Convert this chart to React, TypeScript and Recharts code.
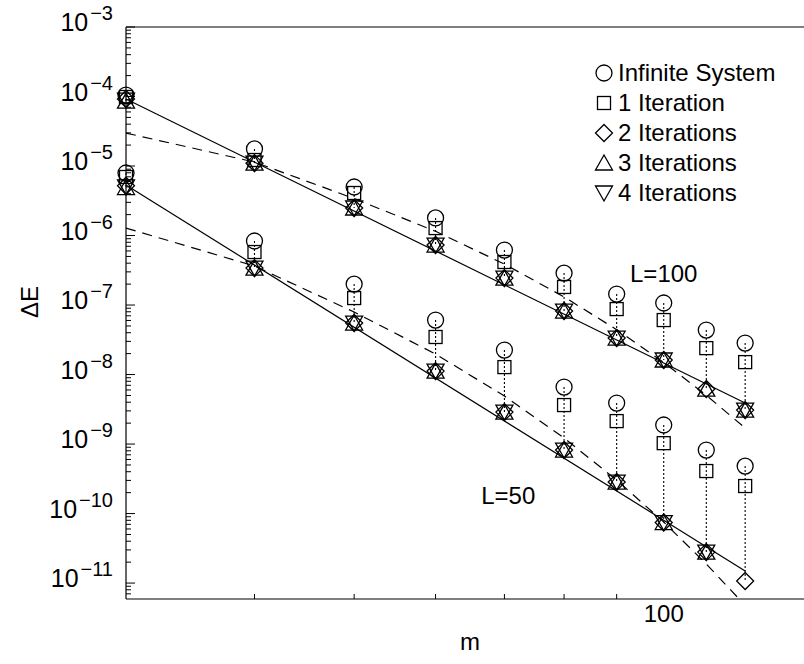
import React from 'react';
import { ComposedChart, Scatter, XAxis, YAxis, ReferenceLine, ReferenceDot, Legend } from 'recharts';

const mValues = [30, 40, 50, 60, 70, 80, 90, 100, 110, 120];

// L = 100
const inf100 = [1.05e-4, 1.76e-5, 4.99e-6, 1.79e-6, 6.18e-7, 2.88e-7, 1.44e-7, 1.07e-7, 4.37e-8, 2.84e-8];
const it1_100 = [9.84e-5, 1.22e-5, 4.09e-6, 1.28e-6, 4.16e-7, 1.82e-7, 8.75e-8, 6.08e-8, 2.4e-8, 1.51e-8];
const it2_100 = [9.2e-5, 1.1e-5, 2.49e-6, 7.3e-7, 2.44e-7, 8.2e-8, 3.35e-8, 1.62e-8, 6.18e-9, 3.08e-9];
const it3_100 = [8.6e-5, 1.1e-5, 2.49e-6, 7.3e-7, 2.44e-7, 8.2e-8, 3.35e-8, 1.62e-8, 6.18e-9, 3.08e-9];
const it4_100 = [8.9e-5, 1.1e-5, 2.49e-6, 7.3e-7, 2.44e-7, 8.2e-8, 3.35e-8, 1.62e-8, null, 3.08e-9];

// L = 50
const inf50 = [7.93e-6, 8.34e-7, 2.0e-7, 6.08e-8, 2.25e-8, 6.61e-9, 3.89e-9, 1.88e-9, 8.2e-10, 4.82e-10];
const it1_50 = [6.95e-6, 5.79e-7, 1.26e-7, 3.47e-8, 1.28e-8, 3.64e-9, 2.14e-9, 1.03e-9, 4.09e-10, 2.49e-10];
const it2_50 = [5.2e-6, 3.4e-7, 5.51e-8, 1.12e-8, 2.88e-9, 8.2e-10, 2.84e-10, 7.43e-11, 2.79e-11, 1.07e-11];
const it3_50 = [4.9e-6, 3.4e-7, 5.51e-8, 1.12e-8, 2.88e-9, 8.2e-10, 2.84e-10, 7.43e-11, 2.79e-11, null];
const it4_50 = [5.0e-6, 3.4e-7, 5.51e-8, 1.12e-8, 2.88e-9, 8.2e-10, 2.84e-10, 7.43e-11, 2.79e-11, null];

// fit lines
const powFitM = [30, 120];
const powFit100 = [9.2e-5, 3.89e-9];
const powFit50 = [5.33e-6, 1.49e-11];
const expFit100 = [2.98e-5, 1.14e-5, 3.4e-6, 1.15e-6, 3.88e-7, 1.31e-7, 4.42e-8, 1.49e-8, 5.04e-9, 1.7e-9];
const expFit50M = [30, 40, 50, 60, 70, 80, 90, 100, 110, 118.4];
const expFit50 = [1.28e-6, 3.64e-7, 7.93e-8, 1.97e-8, 4.91e-9, 1.22e-9, 3.03e-10, 7.55e-11, 1.88e-11, 5.9e-12];

const xDomain = [30, 140];
const yDomain = [5.9e-12, 1e-3];
const xTicks = [40, 50, 60, 70, 80, 90, 100];
const xLabeled = [100];
const yMajor = [1e-11, 1e-10, 1e-9, 1e-8, 1e-7, 1e-6, 1e-5, 1e-4, 1e-3];
const yMinorMult = [2, 3, 4, 5, 6, 7, 8, 9];
const yBelowMinor = [7e-12, 8e-12, 9e-12];

const FONT = "'Liberation Sans', Arial, Helvetica, sans-serif";

const yTicks: number[] = [...yBelowMinor];
yMajor.forEach((v, i) => {
  yTicks.push(v);
  if (i < yMajor.length - 1) yMinorMult.forEach((k) => yTicks.push(k * v));
});

type ShapeKind = 'circle' | 'square' | 'diamond' | 'triUp' | 'triDown';

const drawShape = (kind: ShapeKind, cx: number, cy: number) => {
  const common = { fill: 'none', stroke: '#000', strokeWidth: 1.3 };
  switch (kind) {
    case 'circle':
      return <circle cx={cx} cy={cy} r={8} {...common} />;
    case 'square':
      return <rect x={cx - 6.5} y={cy - 6.5} width={13} height={13} {...common} />;
    case 'diamond':
      return <polygon points={`${cx},${cy - 8.5} ${cx + 8.5},${cy} ${cx},${cy + 8.5} ${cx - 8.5},${cy}`} {...common} />;
    case 'triUp':
      return <polygon points={`${cx},${cy - 8} ${cx + 8.5},${cy + 7} ${cx - 8.5},${cy + 7}`} {...common} />;
    case 'triDown':
    default:
      return <polygon points={`${cx},${cy + 8} ${cx + 8.5},${cy - 7} ${cx - 8.5},${cy - 7}`} {...common} />;
  }
};

const series: { name: string; kind: ShapeKind; a: (number | null)[]; b: (number | null)[] }[] = [
  { name: 'Infinite System', kind: 'circle', a: inf100, b: inf50 },
  { name: '1 Iteration', kind: 'square', a: it1_100, b: it1_50 },
  { name: '2 Iterations', kind: 'diamond', a: it2_100, b: it2_50 },
  { name: '3 Iterations', kind: 'triUp', a: it3_100, b: it3_50 },
  { name: '4 Iterations', kind: 'triDown', a: it4_100, b: it4_50 },
];
const seriesOrder = series.map((s) => s.name);

const toPoints = (ms: number[], vals: (number | null)[]) =>
  ms.map((m, i) => ({ m, v: vals[i] })).filter((p) => p.v !== null) as { m: number; v: number }[];

const kindByName: Record<string, ShapeKind> = {};
series.forEach((s) => (kindByName[s.name] = s.kind));

// dotted connectors: from the infinite-system point down to the lowest point at each m
const connectors: { m: number; top: number; bottom: number }[] = [];
(['a', 'b'] as const).forEach((g) => {
  mValues.forEach((m, i) => {
    const vals = series.map((s) => s[g][i]).filter((v) => v !== null) as number[];
    connectors.push({ m, top: series[0][g][i] as number, bottom: Math.min(...vals) });
  });
});

const YTick = (props: any) => {
  const { x, y, payload } = props;
  const v = payload.value as number;
  const e = Math.round(Math.log10(v));
  const major = Math.abs(v / Math.pow(10, e) - 1) < 1e-6;
  return (
    <g>
      <line x1={x} x2={x + (major ? 9 : 5)} y1={y} y2={y} stroke="#000" strokeWidth={1} />
      {major && (
        <text x={x - 13} y={y + 4} textAnchor="end" fontFamily={FONT} fontSize={25} fill="#000">
          <tspan>10</tspan>
          <tspan dx={2} dy={-11} fontSize={20}>{`\u2212${-e}`}</tspan>
        </text>
      )}
    </g>
  );
};

const XTickBottom = (props: any) => {
  const { x, y, payload } = props;
  const v = payload.value as number;
  const labeled = xLabeled.includes(v);
  return (
    <g>
      {!labeled && <line x1={x} x2={x} y1={y} y2={y - 5} stroke="#000" strokeWidth={1} />}
      {labeled && (
        <text x={x} y={y + 23} textAnchor="middle" fontFamily={FONT} fontSize={24} fill="#000">
          {v}
        </text>
      )}
    </g>
  );
};

const XTickTop = (props: any) => {
  const { x, y, payload } = props;
  const v = payload.value as number;
  if (xLabeled.includes(v)) return <g />;
  return <line x1={x} x2={x} y1={y} y2={y + 5} stroke="#000" strokeWidth={1} />;
};

const LegendContent = (props: any) => {
  const payload = (props.payload || [])
    .filter((p: any) => kindByName[p.value])
    .sort((p: any, q: any) => seriesOrder.indexOf(p.value) - seriesOrder.indexOf(q.value));
  return (
    <div style={{ fontFamily: FONT, fontSize: 24, color: '#000' }}>
      {payload.map((p: any) => (
        <div key={p.value} style={{ height: 30, display: 'flex', alignItems: 'center', whiteSpace: 'nowrap' }}>
          <svg width={20} height={20} style={{ display: 'block' }}>
            {drawShape(kindByName[p.value], 10, 10)}
          </svg>
          <span style={{ marginLeft: 4, lineHeight: '30px' }}>{p.value}</span>
        </div>
      ))}
    </div>
  );
};

const YLabel = () => (
  <text x={38} y={302} transform="rotate(-90 38 302)" textAnchor="middle" fontFamily={FONT} fontSize={24} fill="#000">
    {'\u0394E'}
  </text>
);

const noShape = () => <g />;

export default function App() {
  return (
    <div style={{ position: 'absolute', left: 0, top: 0, width: 804, height: 664, overflow: 'hidden', background: '#fff' }}>
      <ComposedChart width={830} height={664} margin={{ top: 0, right: 16, bottom: 0, left: 0 }}>
        <XAxis
          xAxisId={0}
          type="number"
          dataKey="m"
          scale="log"
          domain={xDomain}
          ticks={xTicks}
          interval={0}
          height={65}
          tickSize={0}
          tickMargin={0}
          tickLine={false}
          axisLine={{ stroke: '#000', strokeWidth: 1.2 }}
          tick={<XTickBottom />}
          label={{ value: 'm', position: 'insideBottom', offset: 14, fontFamily: FONT, fontSize: 24, fill: '#000' }}
        />
        <XAxis
          xAxisId="top"
          orientation="top"
          type="number"
          dataKey="m"
          scale="log"
          domain={xDomain}
          ticks={xTicks}
          interval={0}
          height={27}
          tickSize={0}
          tickMargin={0}
          tickLine={false}
          axisLine={{ stroke: '#000', strokeWidth: 1.2 }}
          tick={<XTickTop />}
        />
        <YAxis
          type="number"
          dataKey="v"
          scale="log"
          domain={yDomain}
          ticks={yTicks}
          interval={0}
          width={126}
          tickSize={0}
          tickMargin={0}
          tickLine={false}
          axisLine={{ stroke: '#000', strokeWidth: 1.2 }}
          tick={<YTick />}
          label={{ content: <YLabel /> }}
        />

        {connectors.map((c, i) => (
          <ReferenceLine
            key={`c${i}`}
            segment={[{ x: c.m, y: c.top }, { x: c.m, y: c.bottom }]}
            stroke="#000"
            strokeWidth={1.1}
            strokeDasharray="2 2"
          />
        ))}

        <Scatter name="powFit100" legendType="none" data={toPoints(powFitM, powFit100)} shape={noShape}
          line={{ stroke: '#000', strokeWidth: 1.2 }} isAnimationActive={false} />
        <Scatter name="powFit50" legendType="none" data={toPoints(powFitM, powFit50)} shape={noShape}
          line={{ stroke: '#000', strokeWidth: 1.2 }} isAnimationActive={false} />
        <Scatter name="expFit100" legendType="none" data={toPoints(mValues, expFit100)} shape={noShape}
          line={{ stroke: '#000', strokeWidth: 1.2, strokeDasharray: '10 7' }} isAnimationActive={false} />
        <Scatter name="expFit50" legendType="none" data={toPoints(expFit50M, expFit50)} shape={noShape}
          line={{ stroke: '#000', strokeWidth: 1.2, strokeDasharray: '10 7' }} isAnimationActive={false} />

        {series.map((s) => (
          <Scatter
            key={s.name}
            name={s.name}
            data={[...toPoints(mValues, s.a), ...toPoints(mValues, s.b)]}
            fill="#000"
            isAnimationActive={false}
            shape={(p: any) => drawShape(s.kind, p.cx, p.cy)}
          />
        ))}

        <ReferenceDot x={100} y={2.88e-7} r={0} fill="none" stroke="none"
          label={{ value: 'L=100', position: 'center', fontFamily: FONT, fontSize: 24, fill: '#000' }} />
        <ReferenceDot x={70.6} y={1.85e-10} r={0} fill="none" stroke="none"
          label={{ value: 'L=50', position: 'center', fontFamily: FONT, fontSize: 24, fill: '#000' }} />

        <Legend
          layout="vertical"
          align="center"
          verticalAlign="middle"
          content={<LegendContent />}
          wrapperStyle={{ left: 594, top: 58, width: 'auto', height: 'auto' }}
        />
      </ComposedChart>
    </div>
  );
}
